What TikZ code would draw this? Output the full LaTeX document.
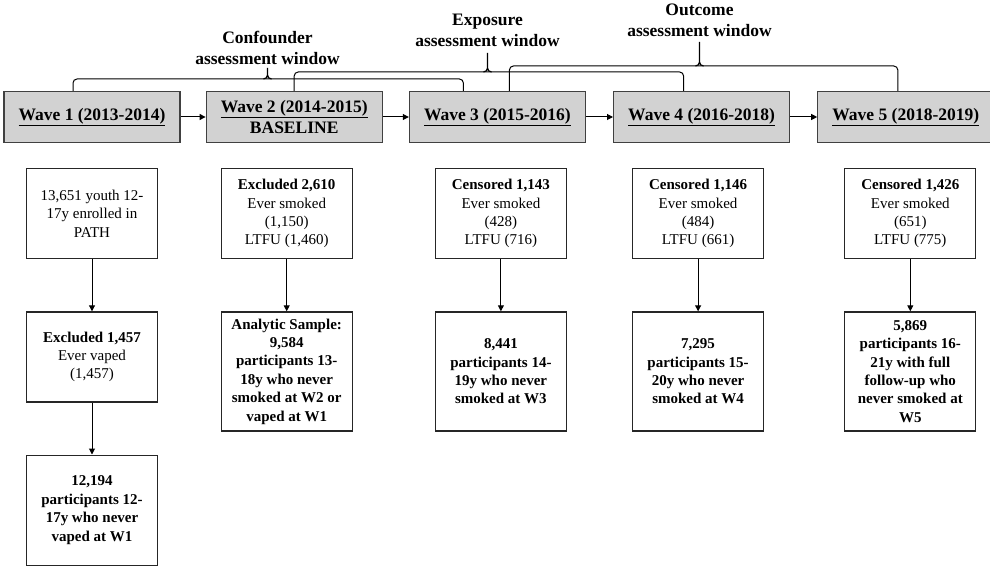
\documentclass[tikz,border=0pt]{standalone}
\usepackage{fontspec}
\setmainfont{Liberation Serif}
\usetikzlibrary{positioning,arrows.meta}

\begin{document}
\begin{tikzpicture}[
    x=1pt, y=1pt,
    wavebox/.style={rectangle, draw=black!75, fill=gray!35, line width=1.2pt, minimum width=176pt, minimum height=51pt, align=center, font=\fontsize{17.5}{21}\selectfont\bfseries},
    countbox/.style={rectangle, draw=black!85, line width=1.2pt, minimum width=131pt, minimum height=90pt, align=center, inner sep=2pt, font=\fontsize{15}{18.4}\selectfont},
    samplebox/.style={countbox, minimum height=119pt, font=\fontsize{15}{18.4}\selectfont\bfseries},
    winlabel/.style={align=center, inner sep=2pt, font=\fontsize{17.5}{21}\selectfont\bfseries},
    brace/.style={line width=1pt, rounded corners=4pt},
    tick/.style={line width=1.2pt},
    >={Triangle[length=6pt, width=6pt]},
    line width=1pt
    ]
    \useasboundingbox (0,0) rectangle (990,-572);
    %Nodes
    \node[wavebox] (w1) at (92,-117) {\underline{Wave 1 (2013-2014)}};
    \node[wavebox] (w2) [right=25pt of w1] {\underline{Wave 2 (2014-2015)}\\BASELINE};
    \node[wavebox] (w3) [right=26pt of w2] {\underline{Wave 3 (2015-2016)}};
    \node[wavebox] (w4) [right=27pt of w3] {\underline{Wave 4 (2016-2018)}};
    \node[wavebox] (w5) [right=27pt of w4] {\underline{Wave 5 (2018-2019)}};

    \node[countbox] (c1) [below=25pt of w1] {13,651 youth 12-\\17y enrolled in\\PATH};
    \node[countbox] (c2) [below=25pt of w2, xshift=-7.5pt] {\textbf{Excluded 2,610}\\Ever smoked\\(1,150)\\LTFU (1,460)};
    \node[countbox] (c3) [below=25pt of w3, xshift=3.5pt] {\textbf{Censored 1,143}\\Ever smoked\\(428)\\LTFU (716)};
    \node[countbox] (c4) [below=25pt of w4, xshift=-3.5pt] {\textbf{Censored 1,146}\\Ever smoked\\(484)\\LTFU (661)};
    \node[countbox] (c5) [below=25pt of w5, xshift=4.5pt] {\textbf{Censored 1,426}\\Ever smoked\\(651)\\LTFU (775)};

    \node[countbox] (d1) [below=52pt of c1] {\textbf{Excluded 1,457}\\Ever vaped\\(1,457)};
    \node[samplebox] (d2) [below=52pt of c2] {Analytic Sample:\\9,584\\participants 13-\\18y who never\\smoked at W2 or\\vaped at W1};
    \node[samplebox] (d3) [below=52pt of c3] {8,441\\participants 14-\\19y who never\\smoked at W3};
    \node[samplebox] (d4) [below=52pt of c4] {7,295\\participants 15-\\20y who never\\smoked at W4};
    \node[samplebox] (d5) [below=52pt of c5] {5,869\\participants 16-\\21y with full\\follow-up who\\never smoked at\\W5};

    \node[samplebox, minimum height=110pt] (e1) [below=52pt of d1] {12,194\\participants 12-\\17y who never\\vaped at W1};

    %Windows
    \coordinate (cfL) at ([xshift=-19pt]w1.north);
    \coordinate (cfR) at ([xshift=-34pt]w3.north);
    \coordinate (cfT) at (267.5,-68);
    \coordinate (exL) at (w2.north);
    \coordinate (exR) at ([xshift=-18pt]w4.north);
    \coordinate (exT) at (487.5,-53);
    \coordinate (ocL) at ([xshift=12pt]w3.north);
    \coordinate (ocR) at ([xshift=-8pt]w5.north);
    \coordinate (ocT) at (699.5,-42);

    \node[winlabel, above=1pt of cfT] (cflab) {Confounder\\assessment window};
    \node[winlabel, above=4pt of exT] (exlab) {Exposure\\assessment window};
    \node[winlabel, above=3pt of ocT] (oclab) {Outcome\\assessment window};

    \draw[brace] (cfL) |- (267.5,-79) -| (cfR);
    \draw[brace] (exL) |- (487.5,-72) -| (exR);
    \draw[brace] (ocL) |- (699.5,-66) -| (ocR);
    \draw[tick] (263.5,-79) to[out=0,in=-90] (267.5,-75) -- (cfT) -- (267.5,-75) to[out=-90,in=180] (271.5,-79);
    \draw[tick] (483.5,-72) to[out=0,in=-90] (487.5,-68) -- (exT) -- (487.5,-68) to[out=-90,in=180] (491.5,-72);
    \draw[tick] (695.5,-66) to[out=0,in=-90] (699.5,-62) -- (ocT) -- (699.5,-62) to[out=-90,in=180] (703.5,-66);

    %Lines
    \draw[->] (w1) -- (w2);
    \draw[->] (w2) -- (w3);
    \draw[->] (w3) -- (w4);
    \draw[->] (w4) -- (w5);
    \draw[->] (c1) -- (d1);
    \draw[->] (d1) -- (e1);
    \draw[->] (c2) -- (d2);
    \draw[->] (c3) -- (d3);
    \draw[->] (c4) -- (d4);
    \draw[->] (c5) -- (d5);
\end{tikzpicture}
\end{document}
